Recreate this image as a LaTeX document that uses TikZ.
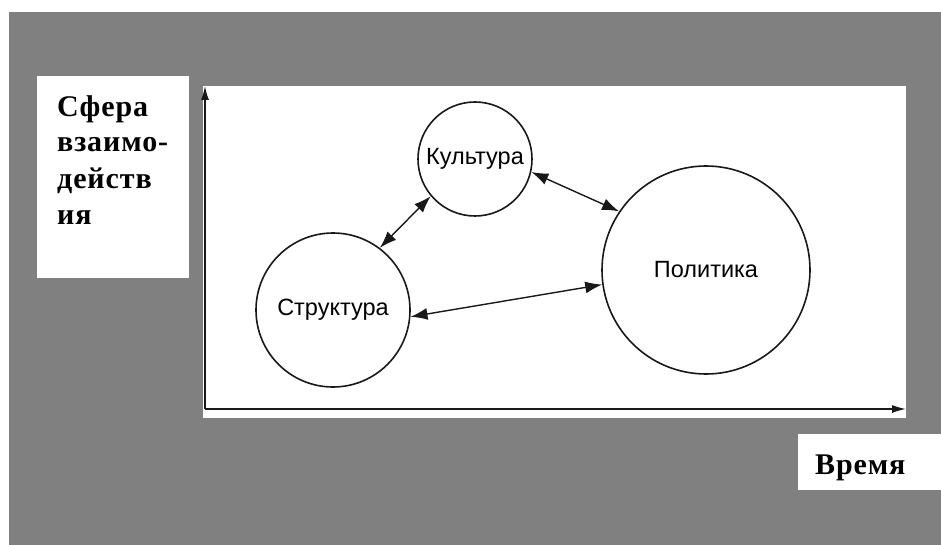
\documentclass[tikz,border=0pt]{standalone}
\usepackage{fontspec}
\setmainfont{Liberation Serif}
\newfontfamily\labelfont[LetterSpace=3]{Liberation Serif}
\newfontfamily\circfont{Liberation Sans}
\usetikzlibrary{arrows.meta}
\definecolor{bggray}{RGB}{128,128,128}
\definecolor{ink}{RGB}{25,25,25}
\begin{document}
\begin{tikzpicture}[x=1pt,y=-1pt,
  sphere/.style={circle,draw=ink,line width=1.6pt,inner sep=0pt,
    font=\circfont\fontsize{23.5}{28}\selectfont},
  axislabel/.style={anchor=base west,inner sep=0pt,
    font=\labelfont\bfseries\fontsize{30}{36}\selectfont},
  link/.style={draw=ink,line width=1.4pt,
    {Latex[length=17pt,width=12pt]}-{Latex[length=17pt,width=12pt]}},
  axis/.style={draw=ink,line width=1.4pt,-{Latex[length=14pt,width=8pt]}}]
\useasboundingbox (0,0) rectangle (941,545);
% page background and panels
\fill[white] (0,0) rectangle (941,545);
\fill[bggray] (9,12) rectangle (941,545);
\fill[white] (37,76) rectangle (189,278);
\fill[white] (203,86) rectangle (906,418);
\fill[white] (798,434) rectangle (941,490);
% axes
\coordinate (o) at (205,409);
\coordinate (ytop) at (205,86);
\coordinate (xend) at (906,409);
\draw[axis] (o) -- (ytop);
\draw[axis] (o) -- (xend);
% axis labels
\node[axislabel] (l1) at (57,117) {Сфера};
\node[axislabel] (l2) at (57,152) {взаимо-};
\node[axislabel] (l3) at (57,189) {действ};
\node[axislabel] (l4) at (57,225) {ия};
\node[axislabel] (t) at (815,474) {Время};
% spheres
\node[sphere,minimum size=114pt] (k) at (475,159) {Культура};
\node[sphere,minimum size=154pt] (s) at (333,310) {Структура};
\node[sphere,minimum size=208pt] (p) at (706,270) {Политика};
% interactions
\draw[link] (k.220) -- (s.53);
\draw[link] (k.-13) -- (p.146);
\draw[link] (s.-5) -- (p.188);
\end{tikzpicture}
\end{document}
